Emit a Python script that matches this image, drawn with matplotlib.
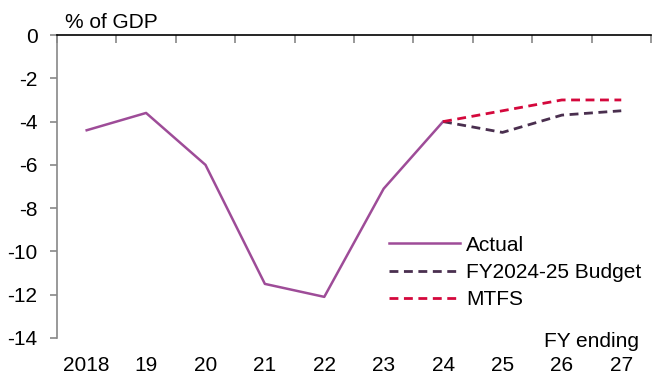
import numpy as np
import matplotlib.pyplot as plt

plt.rcParams['font.family'] = ['Liberation Sans', 'DejaVu Sans']
plt.rcParams['font.size'] = 15

# data (% of GDP)
years = ['2018', '19', '20', '21', '22', '23', '24', '25', '26', '27']
actual = [-4.4, -3.6, -6.0, -11.5, -12.1, -7.1, -4.0]
budget = [-4.0, -4.5, -3.7, -3.5]
mtfs = [-4.0, -3.5, -3.0, -3.0]

x = np.arange(len(years))

fig = plt.figure(figsize=(6.52, 3.74), dpi=100)
ax = fig.add_axes([0.0874, 0.0963, 0.911, 0.81])

ax.plot(x[:7], actual, color='#9E4C98', lw=1.8, label='Actual')
ax.plot(x[6:], budget, color='#4A2F4F', lw=2.0, ls=(0, (3.2, 2)), label='FY2024-25 Budget')
ax.plot(x[6:], mtfs, color='#D4083C', lw=2.0, ls=(0, (3.2, 2)), label='MTFS')

ax.set_xlim(-0.5, 9.5)
ax.set_ylim(-14, 0)
ax.set_yticks(np.arange(-14, 1, 2))
ax.set_yticklabels([str(v) for v in range(-14, 1, 2)])

ax.set_xticks(x)
ax.set_xticklabels(years)
ax.set_xticks(np.arange(-0.5, 10, 1), minor=True)
ax.tick_params(axis='x', which='major', length=0, pad=13)
ax.tick_params(axis='x', which='minor', top=True, bottom=False, direction='in',
               length=6, color='#888888', width=1.2)
ax.tick_params(axis='y', length=5, color='#888888', width=1.2, pad=9)

for s in ['right', 'bottom']:
    ax.spines[s].set_visible(False)
ax.spines['left'].set_color('#888888')
ax.spines['left'].set_linewidth(1.2)
ax.spines['top'].set_color('black')
ax.spines['top'].set_linewidth(1.2)

fig.text(0.1, 0.925, '% of GDP', fontsize=15)
ax.text(9.3, -14.15, 'FY ending', ha='right', va='center', fontsize=15, clip_on=False)

ax.legend(loc='upper left', bbox_to_anchor=(0.545, 0.365), frameon=False,
          handlelength=3.4, handletextpad=0.3, labelspacing=0.4,
          borderaxespad=0, fontsize=15)

fig.savefig('out.png', dpi=100)
